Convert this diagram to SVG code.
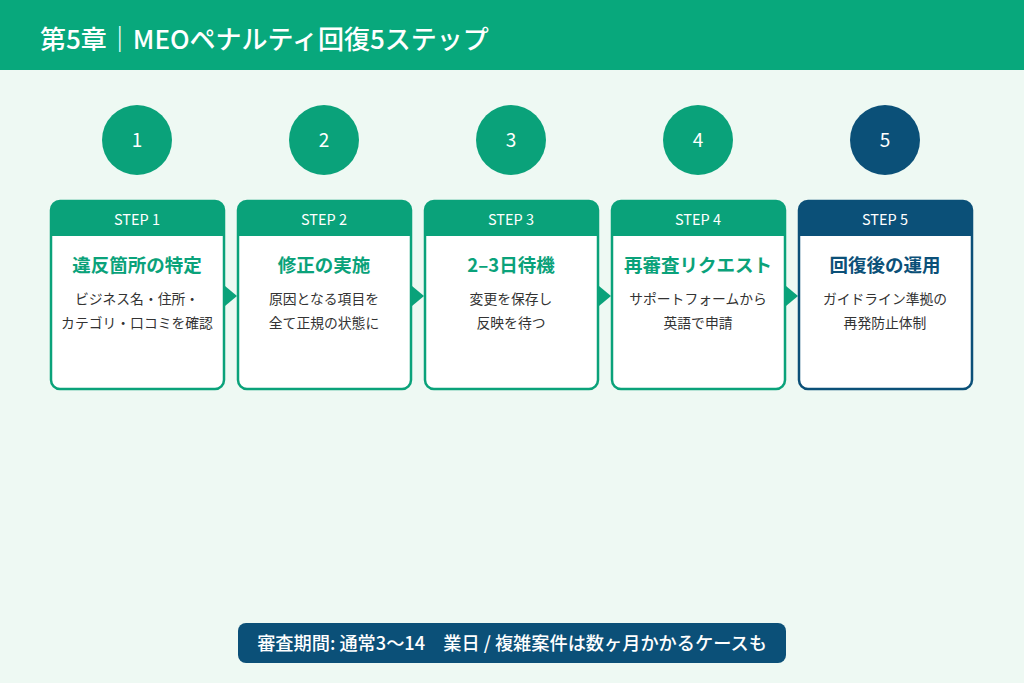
<svg xmlns="http://www.w3.org/2000/svg" width="1024" height="683" viewBox="0 0 1024 683">
<style>
text{font-family:"Noto Sans CJK JP","Noto Sans",sans-serif;text-anchor:middle}
.num{fill:#fff;font-size:19px}
.step{fill:#fff;font-size:14.5px}
.ttl{font-size:18.5px;font-weight:bold}
.g .ttl{fill:#0aa27a}.b .ttl{fill:#0b5078}
.desc{fill:#333;font-size:13.8px}
.g .c{fill:#0aa27a}.b .c{fill:#0b5078}
.g .card{fill:#fff;stroke:#0aa27a;stroke-width:2.5}
.b .card{fill:#fff;stroke:#0b5078;stroke-width:2.5}
</style>
<rect width="1024" height="683" fill="#eef9f3"/>
<rect width="1024" height="70" fill="#08a87c"/>
<text x="40" y="49" style="text-anchor:start;fill:#fff;font-size:26px;font-weight:500">第5章｜MEOペナルティ回復5ステップ</text>
<g id="connectors" fill="#0aa27a">
<polygon points="225,286 237,296 225,306"/>
<polygon points="412,286 424,296 412,306"/>
<polygon points="599,286 611,296 599,306"/>
<polygon points="786,286 798,296 786,306"/>
</g>
<g id="step1" class="g"><circle class="c" cx="137" cy="140" r="35"/><text class="num" x="137" y="147">1</text>
<rect class="card" x="51" y="201" width="173" height="188" rx="9"/><path class="c" d="M51,236V210a9,9 0 0 1 9,-9H215a9,9 0 0 1 9,9V236Z"/>
<text class="step" x="137" y="225">STEP 1</text><text class="ttl" x="137" y="272">違反箇所の特定</text>
<text class="desc" x="137" y="304">ビジネス名・住所・</text><text class="desc" x="137" y="328">カテゴリ・口コミを確認</text></g>
<g id="step2" class="g"><circle class="c" cx="324" cy="140" r="35"/><text class="num" x="324" y="147">2</text>
<rect class="card" x="238" y="201" width="173" height="188" rx="9"/><path class="c" d="M238,236V210a9,9 0 0 1 9,-9H402a9,9 0 0 1 9,9V236Z"/>
<text class="step" x="324" y="225">STEP 2</text><text class="ttl" x="324" y="272">修正の実施</text>
<text class="desc" x="324" y="304">原因となる項目を</text><text class="desc" x="324" y="328">全て正規の状態に</text></g>
<g id="step3" class="g"><circle class="c" cx="511" cy="140" r="35"/><text class="num" x="511" y="147">3</text>
<rect class="card" x="425" y="201" width="173" height="188" rx="9"/><path class="c" d="M425,236V210a9,9 0 0 1 9,-9H589a9,9 0 0 1 9,9V236Z"/>
<text class="step" x="511" y="225">STEP 3</text><text class="ttl" x="511" y="272">2–3日待機</text>
<text class="desc" x="511" y="304">変更を保存し</text><text class="desc" x="511" y="328">反映を待つ</text></g>
<g id="step4" class="g"><circle class="c" cx="698" cy="140" r="35"/><text class="num" x="698" y="147">4</text>
<rect class="card" x="612" y="201" width="173" height="188" rx="9"/><path class="c" d="M612,236V210a9,9 0 0 1 9,-9H776a9,9 0 0 1 9,9V236Z"/>
<text class="step" x="698" y="225">STEP 4</text><text class="ttl" x="698" y="272">再審査リクエスト</text>
<text class="desc" x="698" y="304">サポートフォームから</text><text class="desc" x="698" y="328">英語で申請</text></g>
<g id="step5" class="b"><circle class="c" cx="885" cy="140" r="35"/><text class="num" x="885" y="147">5</text>
<rect class="card" x="799" y="201" width="173" height="188" rx="9"/><path class="c" d="M799,236V210a9,9 0 0 1 9,-9H963a9,9 0 0 1 9,9V236Z"/>
<text class="step" x="885" y="225">STEP 5</text><text class="ttl" x="885" y="272">回復後の運用</text>
<text class="desc" x="885" y="304">ガイドライン準拠の</text><text class="desc" x="885" y="328">再発防止体制</text></g>
<g id="note"><rect x="238" y="623" width="548" height="40" rx="8" fill="#0b5078"/>
<text x="512" y="650" style="fill:#fff;font-size:18.2px;font-weight:500">審査期間: 通常3〜14　業日 / 複雑案件は数ヶ月かかるケースも</text></g>
</svg>
